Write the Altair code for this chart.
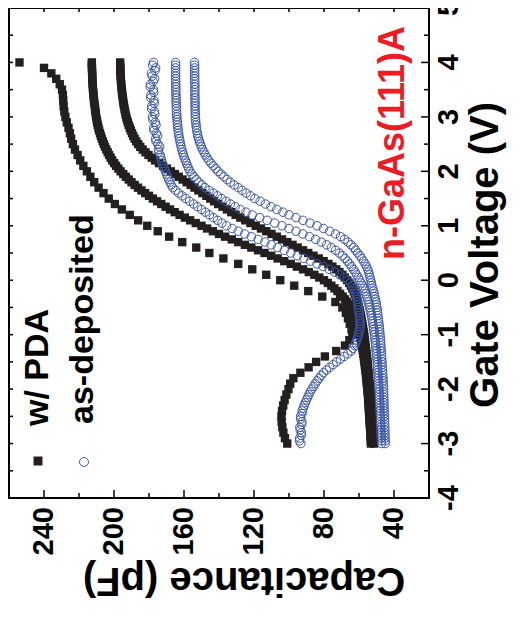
import altair as alt
import pandas as pd

# ---------------- data ----------------
# voltage sweep of the sparse low-frequency w/ PDA curve
gate_v = [-3.0, -2.9, -2.8, -2.7, -2.6, -2.5, -2.4, -2.3, -2.2, -2.1,
          -2.0, -1.9, -1.8, -1.7, -1.6, -1.5, -1.4, -1.3, -1.2, -1.1,
          -1.0, -0.9, -0.8, -0.7, -0.6, -0.5, -0.4, -0.3, -0.2, -0.1,
          0.0, 0.1, 0.2, 0.3, 0.4, 0.5, 0.6, 0.7, 0.8, 0.9,
          1.0, 1.1, 1.2, 1.3, 1.4, 1.5, 1.6, 1.7, 1.8, 1.9,
          2.0, 2.1, 2.2, 2.3, 2.4, 2.5, 2.6, 2.7, 2.8, 2.9,
          3.0, 3.1, 3.2, 3.3, 3.4, 3.5, 3.6, 3.7, 3.8, 3.9, 4.0]

# voltage sweep of the dense curves
gate_v_fine = [
    -3.00, -2.95, -2.90, -2.85, -2.80, -2.75, -2.70, -2.65, -2.60, -2.55,
    -2.50, -2.45, -2.40, -2.35, -2.30, -2.25, -2.20, -2.15, -2.10, -2.05,
    -2.00, -1.95, -1.90, -1.85, -1.80, -1.75, -1.70, -1.65, -1.60, -1.55,
    -1.50, -1.45, -1.40, -1.35, -1.30, -1.25, -1.20, -1.15, -1.10, -1.05,
    -1.00, -0.95, -0.90, -0.85, -0.80, -0.75, -0.70, -0.65, -0.60, -0.55,
    -0.50, -0.45, -0.40, -0.35, -0.30, -0.25, -0.20, -0.15, -0.10, -0.05,
    0.00, 0.05, 0.10, 0.15, 0.20, 0.25, 0.30, 0.35, 0.40, 0.45,
    0.50, 0.55, 0.60, 0.65, 0.70, 0.75, 0.80, 0.85, 0.90, 0.95,
    1.00, 1.05, 1.10, 1.15, 1.20, 1.25, 1.30, 1.35, 1.40, 1.45,
    1.50, 1.55, 1.60, 1.65, 1.70, 1.75, 1.80, 1.85, 1.90, 1.95,
    2.00, 2.05, 2.10, 2.15, 2.20, 2.25, 2.30, 2.35, 2.40, 2.45,
    2.50, 2.55, 2.60, 2.65, 2.70, 2.75, 2.80, 2.85, 2.90, 2.95,
    3.00, 3.05, 3.10, 3.15, 3.20, 3.25, 3.30, 3.35, 3.40, 3.45,
    3.50, 3.55, 3.60, 3.65, 3.70, 3.75, 3.80, 3.85, 3.90, 3.95,
    4.00]

# w/ PDA (filled squares)
pda_1 = [101.0, 102.3, 103.2, 103.8, 104.2, 104.3, 104.0, 103.3, 102.5, 101.5,
         100.3, 99.3, 97.5, 93.5, 88.8, 84.5, 79.5, 73.0, 68.0, 65.5,
         63.8, 64.3, 65.3, 66.3, 67.5, 69.5, 73.5, 81.0, 89.0, 97.0,
         105.0, 113.0, 121.0, 129.0, 137.5, 145.5, 153.0, 161.0, 168.5, 175.0,
         181.0, 186.2, 191.0, 195.5, 199.5, 203.0, 206.0, 208.8, 211.3, 213.5,
         215.5, 217.5, 219.3, 220.8, 222.3, 223.5, 224.5, 225.2, 226.0, 227.0,
         227.8, 228.4, 228.8, 229.0, 229.2, 229.7, 231.0, 233.0, 235.8, 240.0, 254.0]
pda_2 = [
    53.2, 53.25, 53.3, 53.4, 53.5, 53.6, 53.7, 53.8, 53.9, 54.0,
    54.1, 54.2, 54.3, 54.4, 54.5, 54.6, 54.7, 54.8, 54.9, 55.05,
    55.2, 55.35, 55.5, 55.65, 55.8, 55.95, 56.1, 56.3, 56.5, 56.7,
    56.9, 57.1, 57.3, 57.55, 57.8, 58.05, 58.3, 58.6, 58.9, 59.2,
    59.5, 59.85, 60.2, 60.6, 61.0, 61.5, 62.0, 62.6, 63.2, 64.0,
    64.8, 65.8, 66.8, 68.0, 69.3, 70.8, 72.3, 74.0, 75.8, 77.8,
    80.0, 82.7, 85.5, 88.7, 92.0, 95.5, 99.0, 102.7, 106.5, 110.2,
    114.0, 117.7, 121.5, 125.2, 129.0, 132.7, 136.5, 140.0, 143.5, 146.8,
    150.0, 153.3, 156.5, 159.5, 162.5, 165.3, 168.0, 170.5, 173.0, 175.4,
    177.8, 180.0, 182.2, 184.3, 186.3, 188.2, 190.0, 191.6, 193.2, 194.7,
    196.2, 197.5, 198.8, 199.9, 201.0, 201.9, 202.8, 203.6, 204.4, 205.1,
    205.8, 206.4, 207.0, 207.5, 208.0, 208.5, 208.9, 209.3, 209.6, 209.9,
    210.2, 210.4, 210.6, 210.8, 211.0, 211.2, 211.4, 211.55, 211.7, 211.85,
    212.0, 212.1, 212.2, 212.3, 212.4, 212.45, 212.5, 212.55, 212.6, 212.65,
    212.7]
pda_3 = [
    51.3, 51.4, 51.5, 51.65, 51.8, 51.9, 52.0, 52.1, 52.2, 52.35,
    52.5, 52.6, 52.7, 52.85, 53.0, 53.1, 53.2, 53.3, 53.4, 53.55,
    53.7, 53.85, 54.0, 54.15, 54.3, 54.45, 54.6, 54.75, 54.9, 55.05,
    55.2, 55.35, 55.5, 55.7, 55.9, 56.1, 56.3, 56.5, 56.7, 56.9,
    57.1, 57.35, 57.6, 57.85, 58.1, 58.4, 58.7, 59.0, 59.3, 59.65,
    60.0, 60.4, 60.8, 61.3, 61.8, 62.4, 63.0, 63.8, 64.6, 65.6,
    66.8, 68.1, 69.5, 71.2, 73.0, 75.2, 77.5, 80.2, 83.0, 86.0,
    89.0, 92.0, 95.0, 98.0, 101.0, 104.0, 107.0, 110.0, 113.0, 116.0,
    119.0, 122.0, 125.0, 127.8, 130.5, 133.0, 135.5, 138.0, 140.5, 142.8,
    145.0, 147.2, 149.5, 151.8, 154.0, 156.2, 158.5, 160.8, 163.0, 165.2,
    167.5, 169.8, 172.0, 174.3, 176.5, 178.4, 180.3, 182.0, 183.6, 185.0,
    186.2, 187.3, 188.2, 189.0, 189.7, 190.4, 191.0, 191.6, 192.1, 192.6,
    193.0, 193.4, 193.7, 194.0, 194.3, 194.55, 194.8, 195.0, 195.2, 195.4,
    195.6, 195.75, 195.9, 196.0, 196.1, 196.2, 196.3, 196.35, 196.4, 196.45,
    196.5]

# as-deposited (open circles)
asd_1 = [
    93.2, 94.0, 93.9, 93.0, 92.9, 93.6, 93.8, 92.8, 92.6, 93.3,
    93.4, 92.6, 92.4, 91.9, 91.3, 90.7, 90.0, 89.3, 88.6, 87.8,
    87.0, 86.0, 85.0, 83.9, 82.8, 81.6, 80.3, 78.6, 76.8, 74.8,
    72.8, 70.6, 68.5, 66.4, 64.5, 63.4, 62.5, 61.9, 61.3, 60.8,
    60.3, 59.9, 59.6, 59.4, 59.3, 59.4, 59.6, 59.8, 60.0, 60.2,
    60.4, 60.6, 60.8, 61.0, 61.3, 61.7, 62.2, 62.9, 63.8, 64.9,
    66.4, 68.5, 71.0, 73.9, 77.0, 80.5, 84.0, 87.7, 91.5, 95.2,
    99.0, 102.7, 106.5, 110.1, 113.8, 117.6, 121.5, 125.3, 129.0, 132.5,
    135.7, 138.3, 140.8, 143.2, 145.5, 147.8, 150.0, 152.3, 154.5, 156.8,
    159.0, 161.1, 163.0, 164.8, 166.4, 167.3, 168.0, 168.7, 169.4, 170.0,
    170.6, 171.2, 171.8, 172.4, 172.9, 173.2, 173.6, 174.5, 174.6, 173.9,
    174.9, 176.0, 176.2, 175.1, 175.8, 177.2, 177.3, 176.0, 176.4, 177.8,
    178.0, 176.7, 176.9, 178.5, 178.4, 177.0, 177.2, 179.0, 178.9, 177.3,
    177.5, 179.3, 179.2, 177.6, 176.8, 178.2, 178.6, 176.6, 176.2, 177.9,
    177.4]
asd_2 = [
    47.1, 47.15, 47.2, 47.3, 47.4, 47.45, 47.5, 47.6, 47.7, 47.75,
    47.8, 47.9, 48.0, 48.05, 48.1, 48.2, 48.3, 48.35, 48.4, 48.5,
    48.6, 48.7, 48.8, 48.9, 49.0, 49.1, 49.2, 49.3, 49.4, 49.5,
    49.6, 49.75, 49.9, 50.05, 50.2, 50.35, 50.5, 50.65, 50.8, 51.0,
    51.2, 51.4, 51.6, 51.85, 52.1, 52.35, 52.6, 52.9, 53.2, 53.55,
    53.9, 54.3, 54.7, 55.15, 55.6, 56.15, 56.7, 57.3, 58.0, 58.8,
    59.6, 60.4, 61.3, 62.2, 63.2, 64.3, 65.4, 66.6, 68.0, 69.5,
    71.3, 73.4, 75.8, 78.5, 81.5, 84.8, 88.3, 92.1, 96.0, 100.0,
    104.0, 108.2, 112.5, 116.8, 121.0, 124.6, 127.9, 130.8, 133.5, 136.0,
    138.5, 140.9, 143.3, 145.7, 148.0, 149.8, 151.5, 153.0, 154.3, 155.5,
    156.6, 157.3, 158.0, 158.6, 159.2, 159.8, 160.3, 160.8, 161.2, 161.6,
    162.0, 162.3, 162.6, 162.9, 163.1, 163.3, 163.5, 163.65, 163.8, 163.95,
    164.1, 164.2, 164.3, 164.35, 164.4, 164.45, 164.5, 164.55, 164.6, 164.65,
    164.7, 164.7, 164.7, 164.75, 164.8, 164.8, 164.8, 164.8, 164.8, 164.8,
    164.8]
asd_3 = [
    45.0, 45.05, 45.1, 45.15, 45.2, 45.25, 45.3, 45.35, 45.4, 45.45,
    45.5, 45.55, 45.6, 45.65, 45.7, 45.75, 45.8, 45.85, 45.9, 45.95,
    46.0, 46.05, 46.1, 46.2, 46.3, 46.4, 46.5, 46.6, 46.7, 46.8,
    46.9, 47.0, 47.1, 47.2, 47.3, 47.4, 47.5, 47.6, 47.7, 47.85,
    48.0, 48.15, 48.3, 48.45, 48.6, 48.8, 49.0, 49.2, 49.4, 49.6,
    49.8, 50.05, 50.3, 50.65, 51.0, 51.35, 51.7, 52.15, 52.6, 52.95,
    53.3, 53.7, 54.1, 54.5, 55.0, 55.7, 56.5, 57.4, 58.4, 59.5,
    60.8, 61.9, 63.0, 64.6, 66.3, 68.3, 70.5, 73.5, 76.8, 80.3,
    84.0, 88.0, 92.0, 96.0, 100.0, 103.5, 107.0, 110.3, 113.5, 116.5,
    119.5, 122.0, 124.5, 126.8, 129.0, 131.3, 133.5, 135.4, 137.2, 138.9,
    140.5, 141.9, 143.3, 144.6, 145.8, 146.8, 147.8, 148.6, 149.4, 150.1,
    150.7, 151.2, 151.7, 152.1, 152.4, 152.7, 152.9, 153.1, 153.3, 153.4,
    153.5, 153.55, 153.6, 153.65, 153.7, 153.7, 153.7, 153.75, 153.8, 153.8,
    153.8, 153.8, 153.8, 153.85, 153.9, 153.9, 153.9, 153.9, 153.9, 153.95,
    154.0]

cap_major = [40, 80, 120, 160, 200, 240]
cap_labels = ["40", "80", "120", "160", "200", "240"]
cap_minor = [60, 100, 140, 180, 220]
volt_major = [-4, -3, -2, -1, 0, 1, 2, 3, 4, 5]
volt_labels = ["-4", "-3", "-2", "-1", "0", "1", "2", "3", "4", "5"]
volt_minor = [-3.5, -2.5, -1.5, -0.5, 0.5, 1.5, 2.5, 3.5, 4.5]

legend_labels = ["w/ PDA", "as-deposited"]
sample_label = "n-GaAs(111)A"
x_title = "Capacitance (pF)"
y_title = "Gate Voltage (V)"

# ---------------- tables ----------------
def long_table(volts, curves):
    rows = []
    for name, vals in curves.items():
        for v, c in zip(volts, vals):
            rows.append({"V": v, "C": c, "curve": name})
    return pd.DataFrame(rows)

pda_df = pd.concat([
    long_table(gate_v, {"p1": pda_1}),
    long_table(gate_v_fine, {"p2": pda_2, "p3": pda_3}),
], ignore_index=True)
asd_df = long_table(gate_v_fine, {"a1": asd_1, "a2": asd_2, "a3": asd_3})

# ---------------- style ----------------
W, H = 420, 490
FONT = "Liberation Sans"
BLACK = "#231f20"
BLUE = "#3a56a8"
RED = "#ed1c24"

x_scale = alt.Scale(domain=[20, 260], reverse=True, nice=False, zero=False)
y_scale = alt.Scale(domain=[-4, 5], nice=False, zero=False)

X = lambda: alt.X("C:Q", scale=x_scale, axis=None)
Y = lambda: alt.Y("V:Q", scale=y_scale, axis=None)

# ---------------- data layers ----------------
pda_layer = alt.Chart(pda_df).mark_square(size=70, opacity=1, color=BLACK).encode(
    x=X(), y=Y(), detail="curve:N")
asd_layer = alt.Chart(asd_df).mark_point(
    shape="circle", filled=False, size=72, strokeWidth=1, opacity=1, color=BLUE
).encode(x=X(), y=Y(), detail="curve:N")

# ---------------- inside ticks on all four sides ----------------
def x_ticks(vals, side, length):
    df = pd.DataFrame({"C": vals})
    y0, y1 = (H, H - length) if side == "bottom" else (0, length)
    return alt.Chart(df).mark_rule(color="black", strokeWidth=1.5).encode(
        x=X(), y=alt.value(y0), y2=alt.value(y1))

def y_ticks(vals, side, length):
    df = pd.DataFrame({"V": vals})
    x0, x1 = (W, W - length) if side == "right" else (0, length)
    return alt.Chart(df).mark_rule(color="black", strokeWidth=1.5).encode(
        y=Y(), x=alt.value(x0), x2=alt.value(x1))

tick_layers = [
    x_ticks(cap_major, "bottom", 8), x_ticks(cap_minor, "bottom", 5),
    x_ticks(cap_major, "top", 4), x_ticks(cap_minor, "top", 4),
    y_ticks(volt_major, "right", 8), y_ticks(volt_minor, "right", 5),
    y_ticks(volt_major, "left", 4), y_ticks(volt_minor, "left", 4),
]

# ---------------- tick labels (placed through the scales) ----------------
cap_lab_df = pd.DataFrame({"C": cap_major, "lab": cap_labels})
volt_lab_df = pd.DataFrame({"V": volt_major, "lab": volt_labels})
x_labels = alt.Chart(cap_lab_df).mark_text(
    angle=270, align="right", baseline="middle", font=FONT, fontSize=29,
    fontWeight="bold", color="black",
).encode(x=X(), y=alt.value(H + 9), text="lab:N")
y_labels = alt.Chart(volt_lab_df).mark_text(
    angle=270, align="center", baseline="top", font=FONT, fontSize=29,
    fontWeight="bold", color="black",
).encode(y=Y(), x=alt.value(W + 6), text="lab:N")

# ---------------- titles, legend and annotation ----------------
one = pd.DataFrame({"k": [0]})

def txt(s, x, y, angle, align, baseline, size, color="black"):
    return alt.Chart(one).mark_text(
        text=s, angle=angle, align=align, baseline=baseline, font=FONT,
        fontSize=size, fontWeight="bold", color=color,
    ).encode(x=alt.value(x), y=alt.value(y))

x_title_t = txt(x_title, 235, 552, 180, "center", "bottom", 40)
y_title_t = txt(y_title, 457, 247, 270, "center", "top", 40)
leg_t1 = txt(legend_labels[0], 29, 418, 270, "left", "middle", 34)
leg_t2 = txt(legend_labels[1], 74, 416, 270, "left", "middle", 34)
note = txt(sample_label, 384, 252, 270, "left", "middle", 36, RED)

leg_sq = alt.Chart(one).mark_square(size=80, color=BLACK, opacity=1).encode(
    x=alt.value(29), y=alt.value(453))
leg_ci = alt.Chart(one).mark_point(shape="circle", filled=False, size=80,
                                   strokeWidth=1, color=BLUE, opacity=1).encode(
    x=alt.value(75), y=alt.value(454))

chart = alt.layer(
    pda_layer, *tick_layers, asd_layer, x_labels, y_labels,
    x_title_t, y_title_t, leg_sq, leg_ci, leg_t1, leg_t2, note
).properties(
    width=W, height=H,
    autosize=alt.AutoSizeParams(type="none"),
    padding={"left": 1, "top": 0, "right": 85, "bottom": 107},
    background="white",
).configure_view(stroke="black", strokeWidth=2)

chart.save("out.html", embed_options={"renderer": "svg", "actions": False})
